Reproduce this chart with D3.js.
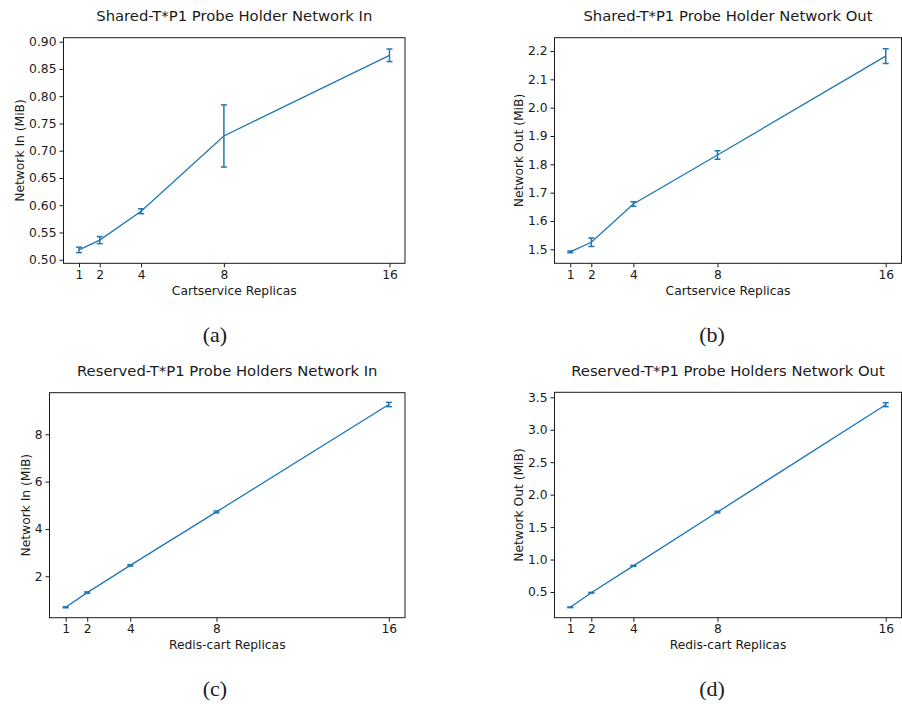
<!DOCTYPE html>
<html>
<head>
<meta charset="utf-8">
<script src="https://cdn.jsdelivr.net/npm/d3@7"></script>
<style>
  html, body { margin: 0; padding: 0; background: #fff; }
  svg { display: block; }
  text { font-family: "DejaVu Sans", sans-serif; fill: #1a1a1a; }
</style>
</head>
<body>
<svg id="chart" width="902" height="704"></svg>
<script>
// ---- data ----
const replicas = [1, 2, 4, 8, 16];

const sharedInMean = [0.518, 0.536, 0.589, 0.727, 0.875];
const sharedInErr  = [0.005, 0.0065, 0.0045, 0.057, 0.0115];

const sharedOutMean = [1.491, 1.525, 1.660, 1.833, 2.182];
const sharedOutErr  = [0.003, 0.015, 0.008, 0.015, 0.026];

const reservedInMean = [0.69, 1.31, 2.46, 4.72, 9.26];
const reservedInErr  = [0.02, 0.03, 0.03, 0.04, 0.09];

const reservedOutMean = [0.264, 0.489, 0.903, 1.732, 3.386];
const reservedOutErr  = [0.005, 0.006, 0.008, 0.012, 0.03];

const xTicks = [1, 2, 4, 8, 16];
const yTicksA = [0.50, 0.55, 0.60, 0.65, 0.70, 0.75, 0.80, 0.85, 0.90];
const yTicksB = [1.5, 1.6, 1.7, 1.8, 1.9, 2.0, 2.1, 2.2];
const yTicksC = [2, 4, 6, 8];
const yTicksD = [0.5, 1.0, 1.5, 2.0, 2.5, 3.0, 3.5];

const titles = [
  "Shared-T*P1 Probe Holder Network In",
  "Shared-T*P1 Probe Holder Network Out",
  "Reserved-T*P1 Probe Holders Network In",
  "Reserved-T*P1 Probe Holders Network Out"
];
const xLabels = ["Cartservice Replicas", "Cartservice Replicas", "Redis-cart Replicas", "Redis-cart Replicas"];
const yLabels = ["Network In (MiB)", "Network Out (MiB)", "Network In (MiB)", "Network Out (MiB)"];
const panelLetters = ["(a)", "(b)", "(c)", "(d)"];

// ---- layout ----
const panels = [
  { mean: sharedInMean, err: sharedInErr, yTicks: yTicksA, fmt: ".2f", yDomain: [0.4934, 0.9073],
    box: { l: 63.5, r: 405, t: 37.7, b: 263.3 }, yLabX: 23.5, letterY: 341.5 },
  { mean: sharedOutMean, err: sharedOutErr, yTicks: yTicksB, fmt: ".1f", yDomain: [1.4506, 2.247],
    box: { l: 554.5, r: 901.5, t: 37.7, b: 263.3 }, yLabX: 523, letterY: 341.5 },
  { mean: reservedInMean, err: reservedInErr, yTicks: yTicksC, fmt: "d", yDomain: [0.25, 9.758],
    box: { l: 49.5, r: 405, t: 392.7, b: 617.7 }, yLabX: 29.5, letterY: 696 },
  { mean: reservedOutMean, err: reservedOutErr, yTicks: yTicksD, fmt: ".1f", yDomain: [0.104, 3.577],
    box: { l: 554.5, r: 901.5, t: 392.3, b: 617.7 }, yLabX: 523, letterY: 696 }
];

const color = "#1f77b4";
const tickFont = "12.3px";
const svg = d3.select("#chart");

panels.forEach((p, i) => {
  const b = p.box;
  const x = d3.scaleLinear().domain([0.25, 16.75]).range([b.l, b.r]);
  const y = d3.scaleLinear().domain(p.yDomain).range([b.b, b.t]);
  const g = svg.append("g");

  // y axis
  const yAxis = d3.axisLeft(y).tickValues(p.yTicks).tickFormat(d3.format(p.fmt))
    .tickSize(4).tickPadding(3);
  const ya = g.append("g").attr("transform", `translate(${b.l},0)`).call(yAxis);
  ya.select(".domain").remove();
  ya.selectAll("text").style("font-size", tickFont).style("font-family", "DejaVu Sans").attr("fill", "#1a1a1a");
  ya.selectAll("line").attr("stroke", "#1a1a1a");

  // x axis
  const xAxis = d3.axisBottom(x).tickValues(xTicks).tickFormat(d3.format("d"))
    .tickSize(4).tickPadding(3);
  const xa = g.append("g").attr("transform", `translate(0,${b.b})`).call(xAxis);
  xa.select(".domain").remove();
  xa.selectAll("text").style("font-size", tickFont).style("font-family", "DejaVu Sans").attr("fill", "#1a1a1a");
  xa.selectAll("line").attr("stroke", "#1a1a1a");

  // line
  const line = d3.line().x((d, k) => x(replicas[k])).y(d => y(d));
  g.append("path").datum(p.mean).attr("d", line)
    .attr("fill", "none").attr("stroke", color).attr("stroke-width", 1.3);

  // error bars
  const eb = g.append("g").attr("stroke", color).attr("stroke-width", 1.5);
  p.mean.forEach((m, k) => {
    const cx = x(replicas[k]);
    const y1 = y(m - p.err[k]), y2 = y(m + p.err[k]);
    eb.append("line").attr("x1", cx).attr("x2", cx).attr("y1", y1).attr("y2", y2);
    eb.append("line").attr("x1", cx - 3).attr("x2", cx + 3).attr("y1", y1).attr("y2", y1);
    eb.append("line").attr("x1", cx - 3).attr("x2", cx + 3).attr("y1", y2).attr("y2", y2);
  });

  // frame
  g.append("rect").attr("x", b.l).attr("y", b.t).attr("width", b.r - b.l).attr("height", b.b - b.t)
    .attr("fill", "none").attr("stroke", "#1a1a1a").attr("stroke-width", 1);

  // title
  g.append("text").attr("x", (b.l + b.r) / 2).attr("y", b.t - 16.5)
    .attr("text-anchor", "middle").style("font-size", "14.8px").text(titles[i]);

  // x label
  g.append("text").attr("x", (b.l + b.r) / 2).attr("y", b.b + 31.5)
    .attr("text-anchor", "middle").style("font-size", tickFont).text(xLabels[i]);

  // y label
  g.append("text").attr("transform", `translate(${p.yLabX},${(b.t + b.b) / 2}) rotate(-90)`)
    .attr("text-anchor", "middle").style("font-size", tickFont).text(yLabels[i]);

  // panel letter
  g.append("text").attr("x", i % 2 === 0 ? 215 : 712).attr("y", p.letterY)
    .attr("text-anchor", "middle").style("font-family", "'Liberation Serif', serif")
    .style("font-size", "22px").text(panelLetters[i]);
});
</script>
</body>
</html>
